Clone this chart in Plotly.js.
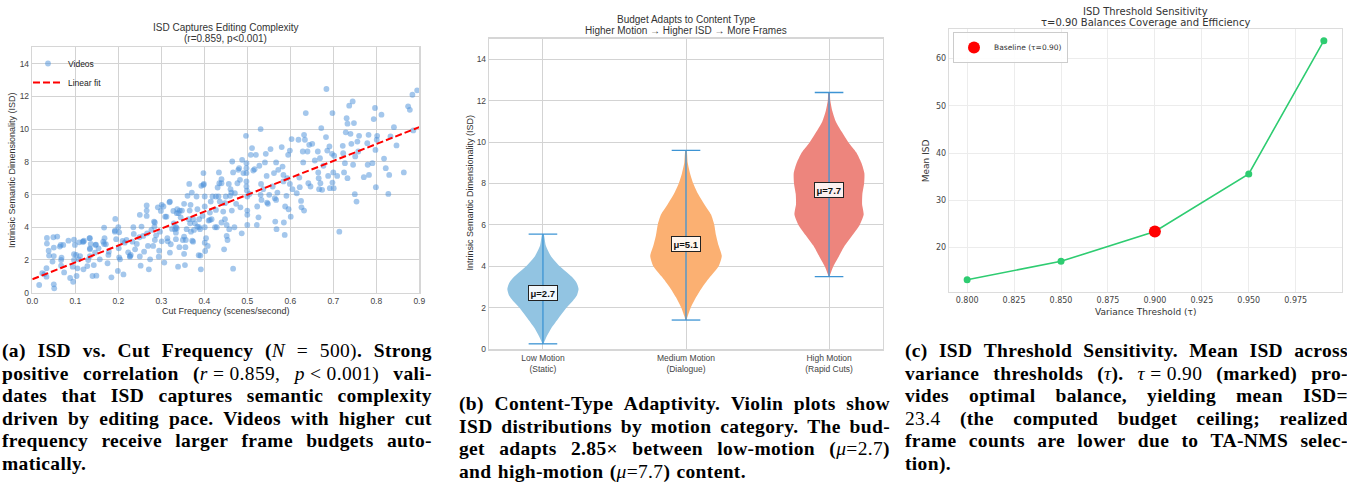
<!DOCTYPE html>
<html><head><meta charset="utf-8">
<script src="https://cdn.plot.ly/plotly-3.0.1.min.js"></script>
<style>
html,body{margin:0;padding:0;background:#fff;}
body{width:1347px;height:495px;overflow:hidden;position:relative;}
#chart{position:absolute;left:0;top:0;width:1347px;height:495px;}
.cap{position:absolute;font-family:'Liberation Serif','Times New Roman',serif;font-weight:bold;font-size:19.5px;letter-spacing:0.35px;line-height:22.5px;color:#000;}
.ln{display:flex;justify-content:space-between;white-space:nowrap;}
.lst{white-space:nowrap;word-spacing:1px;}
m{font-weight:normal;}
m i{font-style:italic;}
</style></head><body>
<div id="chart"></div>
<div id="capA" class="cap" style="left:2px;top:340px;width:430px"></div>
<div id="capB" class="cap" style="left:459px;top:393px;width:431px"></div>
<div id="capC" class="cap" style="left:905px;top:340px;width:443px"></div>
<script>
// ---------- Panel (a): ISD vs cut frequency ----------
const videoPoints = [
[0.016,0.47],[0.023,1.2],[0.028,1.14],[0.033,1.5],[0.033,0.98],[0.034,3.35],[0.034,3.0],[0.038,2.57],[0.039,2.27],[0.047,1.9],[0.049,3.39],[0.05,2.24],[0.05,2.76],[0.05,0.51],[0.051,0.27],[0.058,3.43],[0.064,2.82],[0.066,2.92],[0.067,1.65],[0.067,2.0],[0.068,2.14],[0.072,2.92],[0.074,1.24],[0.084,3.18],[0.088,0.9],[0.094,1.59],[0.095,0.67],[0.097,2.0],[0.097,2.35],[0.097,3.24],[0.099,2.92],[0.102,2.31],[0.103,1.02],[0.105,1.49],[0.108,2.04],[0.109,3.08],[0.111,2.24],[0.117,3.12],[0.119,1.43],[0.12,3.18],[0.128,1.63],[0.13,2.0],[0.133,3.33],[0.134,2.71],[0.134,2.24],[0.136,2.98],[0.14,1.02],[0.143,1.69],[0.146,2.45],[0.148,2.94],[0.149,1.04],[0.154,2.71],[0.157,2.04],[0.167,3.98],[0.167,2.98],[0.168,3.33],[0.171,2.96],[0.175,1.8],[0.177,2.31],[0.178,2.51],[0.184,0.94],[0.193,4.51],[0.192,3.8],[0.195,3.27],[0.199,1.33],[0.2,4.0],[0.201,2.71],[0.202,3.69],[0.202,2.16],[0.204,2.04],[0.21,3.16],[0.212,1.12],[0.215,3.06],[0.223,2.47],[0.227,2.2],[0.229,2.31],[0.233,3.12],[0.235,4.0],[0.236,3.59],[0.239,2.65],[0.243,2.98],[0.249,3.39],[0.25,2.22],[0.252,1.65],[0.254,4.04],[0.258,3.47],[0.26,2.51],[0.266,5.33],[0.266,5.02],[0.266,4.69],[0.267,3.63],[0.269,2.86],[0.271,1.43],[0.274,2.04],[0.277,3.84],[0.281,2.86],[0.283,4.35],[0.284,4.04],[0.285,3.22],[0.288,3.51],[0.292,5.22],[0.294,2.2],[0.295,2.57],[0.297,3.73],[0.299,5.0],[0.301,3.14],[0.301,5.37],[0.307,1.84],[0.309,4.65],[0.314,3.33],[0.315,3.14],[0.319,5.53],[0.32,2.45],[0.322,2.96],[0.325,3.9],[0.328,5.0],[0.329,4.24],[0.332,3.88],[0.334,3.27],[0.334,3.67],[0.334,4.0],[0.336,4.86],[0.337,5.1],[0.339,1.59],[0.342,2.78],[0.343,5.02],[0.345,4.61],[0.348,5.02],[0.35,3.22],[0.353,5.43],[0.353,2.37],[0.355,1.69],[0.356,2.78],[0.357,3.22],[0.359,3.88],[0.361,5.92],[0.364,4.49],[0.365,6.65],[0.366,5.02],[0.368,5.37],[0.369,3.73],[0.371,6.12],[0.372,3.18],[0.374,4.49],[0.376,3.84],[0.378,4.24],[0.384,5.1],[0.384,4.04],[0.387,2.29],[0.388,4.49],[0.388,4.0],[0.39,3.88],[0.391,2.27],[0.392,1.43],[0.393,6.53],[0.396,4.69],[0.398,7.31],[0.399,6.65],[0.401,5.88],[0.401,5.27],[0.401,4.0],[0.401,3.06],[0.402,2.55],[0.404,3.33],[0.408,2.86],[0.41,4.41],[0.413,4.9],[0.415,5.57],[0.417,4.49],[0.419,5.88],[0.425,4.0],[0.427,5.06],[0.429,4.0],[0.431,6.43],[0.433,5.88],[0.434,7.35],[0.435,6.69],[0.436,5.57],[0.44,6.94],[0.44,4.29],[0.444,4.96],[0.446,2.65],[0.448,4.49],[0.45,5.88],[0.452,3.47],[0.454,3.22],[0.457,6.65],[0.458,3.88],[0.46,5.92],[0.461,6.33],[0.463,6.12],[0.464,5.02],[0.465,8.02],[0.467,7.35],[0.467,1.47],[0.47,4.0],[0.471,6.08],[0.474,5.43],[0.477,6.69],[0.479,7.51],[0.481,7.61],[0.483,6.9],[0.484,5.22],[0.487,3.63],[0.488,8.12],[0.491,7.31],[0.497,9.59],[0.498,7.92],[0.498,7.61],[0.498,7.31],[0.498,6.8],[0.498,6.49],[0.499,6.24],[0.5,5.88],[0.5,5.02],[0.5,4.76],[0.5,4.14],[0.505,6.04],[0.508,8.43],[0.511,8.84],[0.514,7.47],[0.517,7.55],[0.52,8.43],[0.522,4.14],[0.523,5.27],[0.526,4.61],[0.528,7.76],[0.531,10.0],[0.531,5.98],[0.532,6.65],[0.533,5.67],[0.537,6.33],[0.541,7.96],[0.543,8.49],[0.545,7.14],[0.546,5.51],[0.548,5.43],[0.551,5.98],[0.554,8.78],[0.559,6.49],[0.562,7.31],[0.564,5.78],[0.565,4.35],[0.567,7.96],[0.567,5.67],[0.568,3.88],[0.57,6.12],[0.572,7.51],[0.58,8.9],[0.582,7.71],[0.584,7.2],[0.584,6.8],[0.585,4.29],[0.587,3.53],[0.588,5.27],[0.591,5.92],[0.593,7.0],[0.595,8.43],[0.596,5.1],[0.599,8.69],[0.599,6.65],[0.601,4.65],[0.603,9.39],[0.605,6.33],[0.615,6.08],[0.619,9.35],[0.621,7.04],[0.622,6.45],[0.625,5.61],[0.626,5.22],[0.629,8.63],[0.63,7.96],[0.632,9.65],[0.632,5.02],[0.634,9.35],[0.636,10.98],[0.64,8.63],[0.642,6.69],[0.644,9.04],[0.647,6.49],[0.651,9.1],[0.657,8.08],[0.664,8.63],[0.665,7.35],[0.666,7.0],[0.667,6.33],[0.669,8.22],[0.67,6.69],[0.672,10.06],[0.674,6.29],[0.677,7.76],[0.683,9.51],[0.684,12.45],[0.686,8.69],[0.688,7.14],[0.691,8.94],[0.692,6.39],[0.697,8.49],[0.698,6.73],[0.698,10.98],[0.7,7.35],[0.701,6.39],[0.702,8.37],[0.709,7.14],[0.714,3.73],[0.722,8.98],[0.723,8.53],[0.725,7.35],[0.727,7.92],[0.729,9.8],[0.731,10.67],[0.733,10.33],[0.733,7.0],[0.737,11.43],[0.74,9.71],[0.742,9.1],[0.745,11.69],[0.746,7.82],[0.748,10.37],[0.75,6.02],[0.751,8.33],[0.754,5.57],[0.756,9.24],[0.758,8.63],[0.76,9.59],[0.771,7.06],[0.779,9.14],[0.78,7.82],[0.782,9.65],[0.783,7.2],[0.791,7.92],[0.794,10.61],[0.797,11.29],[0.798,8.73],[0.799,6.45],[0.801,9.35],[0.802,9.59],[0.812,10.88],[0.818,8.2],[0.822,7.61],[0.828,6.04],[0.83,7.2],[0.833,9.55],[0.841,10.12],[0.847,9.0],[0.864,7.35],[0.874,11.39],[0.878,11.18],[0.884,12.1],[0.886,9.92],[0.895,12.37],
[0.119,3.12],[0.134,3.33],[0.134,2.65],[0.147,2.92],[0.165,3.12],[0.192,3.73],[0.219,3.22],[0.227,2.24],[0.25,4.76],[0.285,4.29],[0.305,5.27],[0.312,4.65],[0.32,5.57],[0.336,3.94],[0.34,4.86],[0.353,3.43],[0.367,4.24],[0.374,3.12],[0.382,5.88],[0.398,6.59],[0.413,4.45],[0.427,5.88],[0.44,6.69],[0.448,5.47],[0.452,4.14]
];
const cutFreq = videoPoints.map(p => p[0]);
const isdValues = videoPoints.map(p => p[1]);
const fitX = [0.0, 0.9];
const fitY = [0.82, 10.12];

// ---------- Panel (b): violin profiles (ISD level, half-width) ----------
const categories = ['Low Motion<br>(Static)', 'Medium Motion<br>(Dialogue)', 'High Motion<br>(Rapid Cuts)'];
const categoryMeans = [2.7, 5.1, 7.7];
const lowLevels  = [0.25, 0.5, 1.0, 1.5, 2.0, 2.3, 2.6, 2.9, 3.2, 3.5, 4.0, 4.5, 5.0, 5.55];
const lowWidths  = [0.003, 0.019, 0.058, 0.11, 0.165, 0.205, 0.238, 0.249, 0.235, 0.2, 0.118, 0.055, 0.02, 0.005];
const medLevels  = [1.4, 1.6, 2.0, 2.5, 3.0, 3.5, 4.0, 4.5, 5.0, 5.5, 6.0, 6.5, 7.0, 7.5, 8.0, 8.5, 9.0, 9.6];
const medWidths  = [0.003, 0.012, 0.033, 0.07, 0.115, 0.17, 0.228, 0.25, 0.228, 0.21, 0.198, 0.175, 0.128, 0.084, 0.051, 0.028, 0.012, 0.004];
const highLevels = [3.5, 4.0, 4.5, 5.0, 5.5, 6.0, 6.5, 7.0, 7.5, 8.0, 8.5, 9.0, 9.5, 10.0, 10.5, 11.0, 11.5, 12.0, 12.4];
const highWidths = [0.003, 0.03, 0.07, 0.11, 0.163, 0.214, 0.242, 0.231, 0.233, 0.245, 0.247, 0.226, 0.191, 0.135, 0.089, 0.047, 0.023, 0.009, 0.004];
const violinColors = ['#92c4e2', '#fbb072', '#ed857d'];

// ---------- Panel (c): threshold sensitivity ----------
const thresholds = [0.80, 0.85, 0.90, 0.95, 0.99];
const meanISD = [13.2, 17.1, 23.4, 35.6, 63.8];
const baselineTau = [0.90];
const baselineISD = [23.4];

// ---------- helpers ----------
const W = 1347, H = 495;
const px = p => p / W;
const py = p => 1 - p / H;
const fontA = 'Liberation Sans, Arial, sans-serif';
const fontC = 'DejaVu Sans, sans-serif';
const tickCol = '#444';
const gridAB = '#d3d3d3';

const traces = [];
// (a)
traces.push({type:'scatter', mode:'markers', x:cutFreq, y:isdValues, xaxis:'x', yaxis:'y', name:'Videos',
  marker:{color:'#4a90d9', size:5.8, opacity:0.5, line:{width:0}}, legend:'legend', hoverinfo:'skip'});
traces.push({type:'scatter', mode:'lines', x:fitX, y:fitY, xaxis:'x', yaxis:'y', name:'Linear fit',
  line:{color:'#ff0000', width:2, dash:'7px,3px'}, legend:'legend', hoverinfo:'skip'});

// (b) violins as filled outlines
const profiles = [[lowLevels, lowWidths], [medLevels, medWidths], [highLevels, highWidths]];
profiles.forEach((pr, i) => {
  const lv = pr[0], wd = pr[1];
  const xs = [], ys = [];
  for (let k = 0; k < lv.length; k++) { xs.push(i + wd[k]); ys.push(lv[k]); }
  for (let k = lv.length - 1; k >= 0; k--) { xs.push(i - wd[k]); ys.push(lv[k]); }
  traces.push({type:'scatter', mode:'lines', x:xs, y:ys, fill:'toself', fillcolor:violinColors[i],
    line:{width:0, color:violinColors[i], shape:'spline', smoothing:0.6}, xaxis:'x2', yaxis:'y2', showlegend:false, hoverinfo:'skip'});
});
// whiskers + caps
const wx = [], wy = [];
profiles.forEach((pr, i) => {
  const lo = pr[0][0], hi = pr[0][pr[0].length - 1];
  wx.push(i, i, null, i - 0.1, i + 0.1, null, i - 0.1, i + 0.1, null);
  wy.push(lo, hi, null, lo, lo, null, hi, hi, null);
});
traces.push({type:'scatter', mode:'lines', x:wx, y:wy, line:{color:'#3d94d4', width:1.3}, xaxis:'x2', yaxis:'y2', showlegend:false, hoverinfo:'skip'});

// (c)
traces.push({type:'scatter', mode:'lines+markers', x:thresholds, y:meanISD, xaxis:'x3', yaxis:'y3', showlegend:false,
  line:{color:'#2ecc71', width:1.6}, marker:{color:'#2ecc71', size:7}, hoverinfo:'skip'});
traces.push({type:'scatter', mode:'markers', x:baselineTau, y:baselineISD, xaxis:'x3', yaxis:'y3', name:'Baseline (τ=0.90)',
  marker:{color:'#ff0000', size:12}, legend:'legend2', hoverinfo:'skip'});

const axAB = (extra) => Object.assign({showgrid:true, gridcolor:gridAB, gridwidth:1, zeroline:false, showline:true, mirror:true,
  linecolor:'#d6d6d6', linewidth:1.5, ticks:'', tickfont:{family:fontA, size:8.5, color:tickCol}, fixedrange:true}, extra);
const axC = (extra) => Object.assign({showgrid:true, gridcolor:'#ececec', gridwidth:1, zeroline:false, showline:true, mirror:true,
  linecolor:'#dcdcdc', linewidth:1.5, ticks:'', tickfont:{family:fontC, size:8, color:tickCol}, fixedrange:true}, extra);

const ann = [];
function txt(x, y, text, opts) { ann.push(Object.assign({xref:'paper', yref:'paper', x:x, y:y, text:text, showarrow:false,
  xanchor:'center', yanchor:'middle'}, opts)); }
const tA = {family:fontA, size:10, color:'#333'};
const tC = {family:fontC, size:10, color:'#333'};
// titles (one annotation per line to keep the tight line spacing)
txt(px(225.8), py(27.5), 'ISD Captures Editing Complexity', {font:tA});
txt(px(225.8), py(38.5), '(r=0.859, p&lt;0.001)', {font:tA});
txt(px(686), py(19.5), 'Budget Adapts to Content Type', {font:tA});
txt(px(686), py(30.5), 'Higher Motion → Higher ISD → More Frames', {font:tA});
txt(px(1145.5), py(11.5), 'ISD Threshold Sensitivity', {font:tC});
txt(px(1145.5), py(22.5), 'τ=0.90 Balances Coverage and Efficiency', {font:tC});
// axis titles
txt(px(225.8), py(311), 'Cut Frequency (scenes/second)', {font:{family:fontA, size:9, color:'#333'}});
txt(px(12), py(170), 'Intrinsic Semantic Dimensionality (ISD)', {textangle:-90, font:{family:fontA, size:9, color:'#333'}});
txt(px(469.5), py(193), 'Intrinsic Semantic Dimensionality (ISD)', {textangle:-90, font:{family:fontA, size:9, color:'#333'}});
txt(px(1145.5), py(312), 'Variance Threshold (τ)', {font:{family:fontC, size:9, color:'#333'}});
txt(px(925.5), py(160.7), 'Mean ISD', {textangle:-90, font:{family:fontC, size:9, color:'#333'}});
// mean labels
categoryMeans.forEach((m, i) => {
  ann.push({xref:'x2', yref:'y2', x:i, y:m, text:'<b>μ=' + m.toFixed(1) + '</b>', showarrow:false,
    bgcolor:'rgba(255,255,255,0.88)', bordercolor:'#222', borderwidth:1, borderpad:1.5,
    font:{family:fontA, size:9.5, color:'#111'}});
});

const layout = {
  width:W, height:H, margin:{l:0, r:0, t:0, b:0}, paper_bgcolor:'#fff', plot_bgcolor:'#fff',
  showlegend:true,
  xaxis: axAB({domain:[px(32.3), px(419.3)], range:[0, 0.9], tick0:0, dtick:0.1, tickformat:'.1f', anchor:'y'}),
  yaxis: axAB({domain:[py(292.7), py(47.3)], range:[0, 15], tick0:0, dtick:2, anchor:'x'}),
  xaxis2: axAB({domain:[px(489.3), px(882.7)], range:[-0.375, 2.375], tickvals:[0, 1, 2], ticktext:categories,
    tickfont:{family:fontA, size:8.5, color:tickCol}, anchor:'y2'}),
  yaxis2: axAB({domain:[py(349), py(38.7)], range:[0, 15], tick0:0, dtick:2, anchor:'x2'}),
  xaxis3: axC({domain:[px(949.3), px(1341.7)], range:[0.7905, 0.9995], tick0:0.8, dtick:0.025, tickformat:'.3f', anchor:'y3'}),
  yaxis3: axC({domain:[py(291.7), py(29.3)], range:[10.67, 66.2], tick0:0, dtick:10, anchor:'x3'}),
  legend: {x:px(28), y:py(49), xanchor:'left', yanchor:'top', bgcolor:'rgba(0,0,0,0)', borderwidth:0,
    font:{family:fontA, size:8.5, color:'#222'}, itemwidth:30, tracegroupgap:0},
  legend2: {x:px(953), y:py(32), xanchor:'left', yanchor:'top', bgcolor:'rgba(255,255,255,0.9)', bordercolor:'#cccccc', borderwidth:1,
    font:{family:fontC, size:7.5, color:'#333'}, itemwidth:30},
  annotations: ann
};

Plotly.newPlot('chart', traces, layout, {staticPlot:true, displayModeBar:false});

// ---------- captions ----------
const capALines = [
  '(a) ISD vs. Cut Frequency (<m><i>N</i></m> <m>=</m> <m>500)</m>. Strong',
  'positive correlation (<m><i>r</i>&nbsp;=&nbsp;0.859,</m> <m><i>p</i>&nbsp;&lt;&nbsp;0.001)</m> vali-',
  'dates that ISD captures semantic complexity',
  'driven by editing pace. Videos with higher cut',
  'frequency receive larger frame budgets auto-'
];
const capALast = 'matically.';
const capBLines = [
  '(b) Content-Type Adaptivity. Violin plots show',
  'ISD distributions by motion category. The bud-',
  'get adapts 2.85× between low-motion (<m><i>μ</i>=2.7</m>)'
];
const capBLast = 'and high-motion (<m><i>μ</i>=7.7</m>) content.';
const capCLines = [
  '(c) ISD Threshold Sensitivity. Mean ISD across',
  'variance thresholds (<m><i>τ</i></m>). <m><i>τ</i>&nbsp;=&nbsp;0.90</m> (marked) pro-',
  'vides optimal balance, yielding mean ISD=',
  '<m>23.4</m> (the computed budget ceiling; realized',
  'frame counts are lower due to TA-NMS selec-'
];
const capCLast = 'tion).';

function fillCaption(id, lines, last) {
  const el = document.getElementById(id);
  lines.forEach(l => {
    const d = document.createElement('div'); d.className = 'ln';
    l.split(' ').forEach(w => { const s = document.createElement('span'); s.innerHTML = w; d.appendChild(s); });
    el.appendChild(d);
  });
  const d = document.createElement('div'); d.className = 'lst'; d.innerHTML = last; el.appendChild(d);
}
fillCaption('capA', capALines, capALast);
fillCaption('capB', capBLines, capBLast);
fillCaption('capC', capCLines, capCLast);
</script>
</body></html>
